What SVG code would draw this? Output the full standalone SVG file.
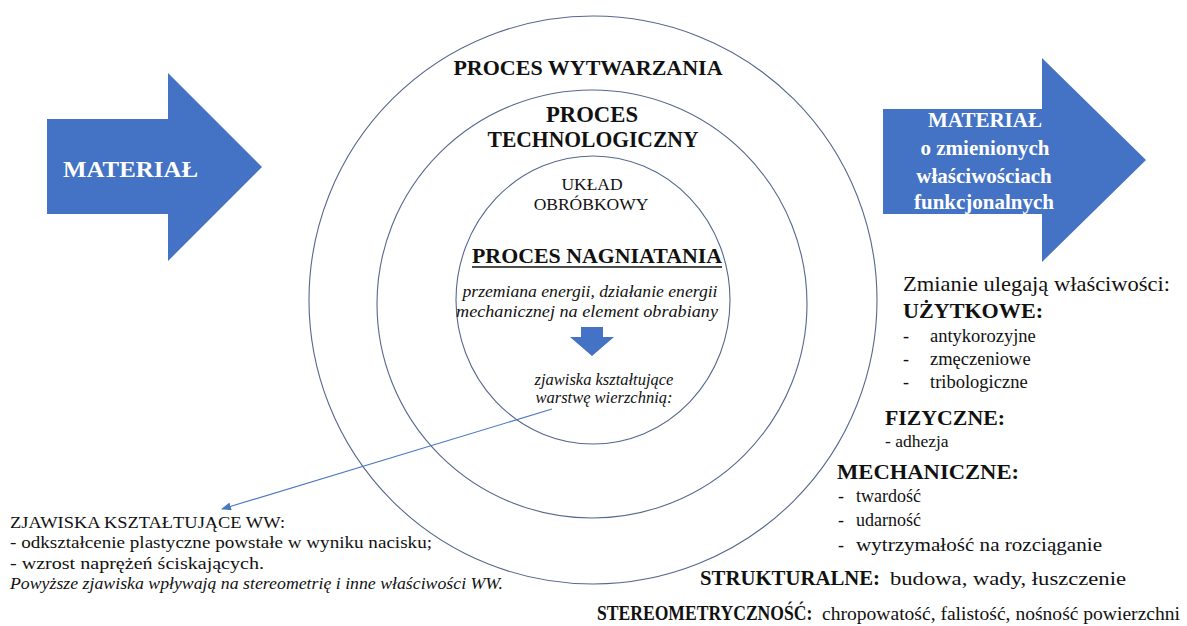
<svg xmlns="http://www.w3.org/2000/svg" width="1187" height="626" viewBox="0 0 1187 626">
<style>
.ring{fill:none;stroke:#56688f;stroke-width:1.1}
.blue{fill:#4472C4}
.wt{font-family:"Liberation Serif","Times New Roman",serif;font-weight:bold;fill:#ffffff}
.t{font-family:"Liberation Serif","Times New Roman",serif;fill:#111111}
.b{font-weight:bold}
.i{font-style:italic}
.c{text-anchor:middle}
.conn{stroke:#4a78c0;stroke-width:1.1;fill:none}
</style>
<defs>
<marker id="ah" markerWidth="10" markerHeight="8" refX="9" refY="4" orient="auto" markerUnits="userSpaceOnUse">
<path d="M0,0 L10,4 L0,8 Z" fill="#4a78c0"/>
</marker>
</defs>
<rect width="1187" height="626" fill="#ffffff"/>

<g id="ring-outer">
<ellipse class="ring" cx="593" cy="300" rx="284" ry="284"/>
<text class="t b c" x="588" y="75" font-size="22">PROCES WYTWARZANIA</text>
</g>
<g id="ring-middle">
<ellipse class="ring" cx="592" cy="304" rx="215" ry="214"/>
<text class="t b c" x="592" y="122" font-size="23" textLength="92" lengthAdjust="spacingAndGlyphs">PROCES</text>
<text class="t b c" x="593" y="147" font-size="23" textLength="211" lengthAdjust="spacingAndGlyphs">TECHNOLOGICZNY</text>
</g>
<g id="ring-inner">
<ellipse class="ring" cx="593" cy="300" rx="137" ry="144"/>
<text class="t c" x="592" y="190" font-size="17.5">UKŁAD</text>
<text class="t c" x="591" y="210" font-size="17.5">OBRÓBKOWY</text>
</g>

<g id="nagniatanie">
<text class="t b c" x="597" y="263" font-size="22" textLength="250" lengthAdjust="spacingAndGlyphs">PROCES NAGNIATANIA</text>
<line x1="472" y1="267" x2="722" y2="267" stroke="#111" stroke-width="1.4"/>
<text class="t i c" x="590" y="297" font-size="17" textLength="255" lengthAdjust="spacingAndGlyphs">przemiana energii, działanie energii</text>
<text class="t i c" x="587" y="317" font-size="17" textLength="262" lengthAdjust="spacingAndGlyphs">mechanicznej na element obrabiany</text>
<path class="blue" d="M581,327 L603,327 L603,337 L614,337 L592,356 L570,337 L581,337 Z"/>
<text class="t i c" x="604" y="385" font-size="16.5">zjawiska kształtujące</text>
<text class="t i c" x="604" y="403" font-size="16.5">warstwę wierzchnią:</text>
</g>

<g id="material-in">
<path class="blue" d="M47,119 L168,119 L168,73 L262,167 L168,261 L168,214 L47,214 Z"/>
<text class="wt" x="63" y="177" font-size="24" textLength="135" lengthAdjust="spacingAndGlyphs">MATERIAŁ</text>
</g>

<g id="material-out">
<path class="blue" d="M883,109 L1042,109 L1042,58 L1146,160 L1042,262 L1042,214 L883,214 Z"/>
<text class="wt c" x="985" y="127" font-size="21">MATERIAŁ</text>
<text class="wt c" x="985" y="155" font-size="21">o zmienionych</text>
<text class="wt c" x="984" y="183" font-size="21">właściwościach</text>
<text class="wt c" x="984" y="209" font-size="21">funkcjonalnych</text>
</g>

<g id="zjawiska-ww">
<text class="t" x="10" y="528" font-size="17.5" textLength="275" lengthAdjust="spacingAndGlyphs">ZJAWISKA KSZTAŁTUJĄCE WW:</text>
<text class="t" x="10" y="548" font-size="17.5" textLength="422" lengthAdjust="spacingAndGlyphs">- odkształcenie plastyczne powstałe w wyniku  nacisku;</text>
<text class="t" x="10" y="569" font-size="17.5" textLength="254" lengthAdjust="spacingAndGlyphs">- wzrost naprężeń ściskających.</text>
<text class="t i" x="10" y="589" font-size="17.5" textLength="493" lengthAdjust="spacingAndGlyphs">Powyższe zjawiska wpływają na stereometrię  i inne właściwości WW.</text>
</g>

<g id="wlasciwosci">
<text class="t" x="903" y="291" font-size="21.5" textLength="267" lengthAdjust="spacingAndGlyphs">Zmianie ulegają właściwości:</text>
<text class="t b" x="903" y="318" font-size="22" textLength="140" lengthAdjust="spacingAndGlyphs">UŻYTKOWE:</text>
<text class="t" x="903" y="342" font-size="18">-</text>
<text class="t" x="930" y="342" font-size="18.5">antykorozyjne</text>
<text class="t" x="903" y="365" font-size="18">-</text>
<text class="t" x="930" y="365" font-size="18.5">zmęczeniowe</text>
<text class="t" x="903" y="388" font-size="18">-</text>
<text class="t" x="930" y="388" font-size="18.5">tribologiczne</text>
<text class="t b" x="885" y="425" font-size="22" textLength="120" lengthAdjust="spacingAndGlyphs">FIZYCZNE:</text>
<text class="t" x="885" y="447" font-size="17.5">- adhezja</text>
<text class="t b" x="837" y="479" font-size="22" textLength="182" lengthAdjust="spacingAndGlyphs">MECHANICZNE:</text>
<text class="t" x="838" y="502" font-size="18">-</text>
<text class="t" x="856" y="502" font-size="18">twardość</text>
<text class="t" x="838" y="526" font-size="18">-</text>
<text class="t" x="856" y="526" font-size="18">udarność</text>
<text class="t" x="838" y="551" font-size="18">-</text>
<text class="t" x="856" y="551" font-size="18" textLength="246" lengthAdjust="spacingAndGlyphs">wytrzymałość  na rozciąganie</text>
<text class="t b" x="700" y="585" font-size="22" textLength="180" lengthAdjust="spacingAndGlyphs">STRUKTURALNE:</text>
<text class="t" x="890" y="585" font-size="18" textLength="236" lengthAdjust="spacingAndGlyphs">budowa, wady,  łuszczenie</text>
<text class="t b" transform="translate(597,620) scale(0.8,1)" x="0" y="0" font-size="22">STEREOMETRYCZNOŚĆ:</text>
<text class="t" x="822" y="620" font-size="18" textLength="358" lengthAdjust="spacingAndGlyphs">chropowatość,  falistość, nośność powierzchni</text>
</g>

<g id="connectors">
<line class="conn" x1="552" y1="409" x2="222" y2="509" marker-end="url(#ah)"/>
</g>
</svg>
